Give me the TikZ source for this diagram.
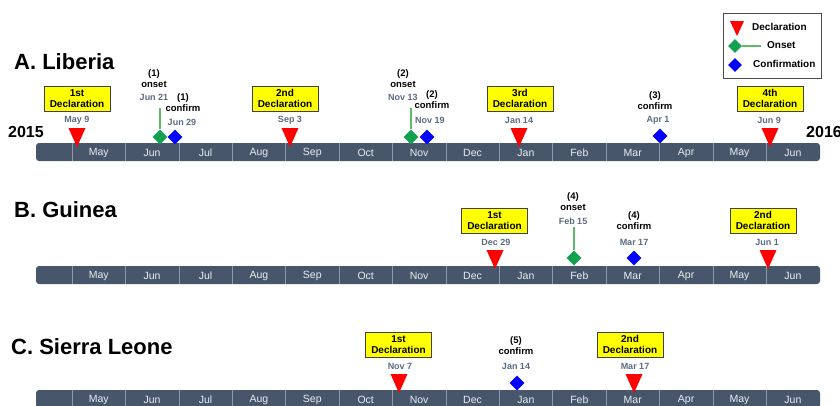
\documentclass[tikz,border=0pt]{standalone}
\usepackage{fontspec}
\setmainfont{Liberation Sans}
\usepackage{xcolor}
\usetikzlibrary{shapes.geometric}

\definecolor{barfill}{HTML}{48566C}
\definecolor{barrule}{HTML}{8E9AAA}
\definecolor{monthtxt}{HTML}{E9EDF2}
\definecolor{datetxt}{HTML}{5B6B82}
\definecolor{declred}{HTML}{FF0000}
\definecolor{declyellow}{HTML}{FFFF00}
\definecolor{onsetgreen}{HTML}{12A150}
\definecolor{linegreen}{HTML}{5DBB6A}
\definecolor{confblue}{HTML}{0000FF}

\begin{document}
\begin{tikzpicture}[x=1pt,y=-1pt,
    title/.style={font=\bfseries\fontsize{22}{24}\selectfont, anchor=west, inner sep=0},
    yearlbl/.style={font=\bfseries\fontsize{16}{18}\selectfont, inner sep=0},
    monthlbl/.style={text=monthtxt, font=\fontsize{10.5}{12}\selectfont, inner sep=0},
    declbox/.style={draw=black!75, fill=declyellow, line width=0.8pt, align=center,
        font=\bfseries\fontsize{10}{11}\selectfont, minimum width=66pt, minimum height=25pt, inner sep=1pt},
    datelbl/.style={text=datetxt, font=\bfseries\fontsize{9}{10}\selectfont, inner sep=0},
    evlbl/.style={align=center, font=\bfseries\fontsize{9.5}{11}\selectfont, inner sep=0},
    onsetmark/.style={diamond, fill=onsetgreen, minimum size=15pt, inner sep=0},
    confmark/.style={diamond, fill=confblue, minimum size=15pt, inner sep=0},
    onsetstem/.style={draw=linegreen, line width=1.4pt},
    legendtxt/.style={font=\bfseries\fontsize{10}{11}\selectfont, anchor=west, inner sep=0}]
    \useasboundingbox (0,0) rectangle (840,405);

    % timeline bars
    \foreach \r/\y in {A/143,B/266,C/390} {
        \fill[barfill, rounded corners=3pt] (36,\y) rectangle (820,\y+18);
        \foreach \i in {0,...,13}
            \draw[barrule, line width=0.6pt] (72+53.4*\i,\y) -- (72+53.4*\i,\y+18);
        \foreach \m [count=\i from 0] in {May,Jun,Jul,Aug,Sep,Oct,Nov,Dec,Jan,Feb,Mar,Apr,May,Jun}
            \node[monthlbl] (m\r\i) at (98.7+53.4*\i,\y+9.5) {\m};
    }

    % titles
    \node[title] (tA) at (14,62) {A. Liberia};
    \node[title] (tB) at (14,210) {B. Guinea};
    \node[title] (tC) at (11,347) {C. Sierra Leone};
    \node[yearlbl, anchor=west] (yr15) at (8,132) {2015};
    \node[yearlbl, anchor=west] (yr16) at (806,132) {2016};

    % legend
    \draw[black!70, line width=0.9pt] (723,13) rectangle (821,78);
    \fill[declred] (730,21) -- (744,21) -- (737,36) -- cycle;
    \node[legendtxt] (lgD) at (752,27) {Declaration};
    \coordinate (lgOend) at (761,46);
    \node[onsetmark, minimum size=14pt] (lgO) at (735,46) {};
    \draw[onsetstem] (lgO.east) -- (lgOend);
    \node[legendtxt] (lgOt) at (767,45) {Onset};
    \node[confmark, minimum size=14pt] (lgC) at (735,65) {};
    \node[legendtxt] (lgCt) at (753,64) {Confirmation};

    % declaration markers
    \foreach \x/\y in {77/147,290/147,519/147,770/147,495/269,768/269,399/393,634/393}
        \fill[declred] (\x,\y) -- ++(-8.5,-19) -- ++(17,0) -- cycle;

    % A. Liberia
    \node[declbox] (dbA1) at (77,98.5) {1st\\Declaration};
    \node[datelbl] (dtA1) at (77,120) {May 9};
    \node[declbox] (dbA2) at (285,98.5) {2nd\\Declaration};
    \node[datelbl] (dtA2) at (290,120) {Sep 3};
    \node[declbox] (dbA3) at (520,98.5) {3rd\\Declaration};
    \node[datelbl] (dtA3) at (519,120) {Jan 14};
    \node[declbox] (dbA4) at (770,98.5) {4th\\Declaration};
    \node[datelbl] (dtA4) at (769,120) {Jun 9};

    \node[evlbl] (evA1) at (154,78.5) {(1)\\onset};
    \node[datelbl] (onA1t) at (154,97) {Jun 21};
    \node[onsetmark] (onA1) at (160,137) {};
    \draw[onsetstem] (160,108) -- (onA1.north);
    \node[evlbl] (evA2) at (183,102.5) {(1)\\confirm};
    \node[datelbl] (cfA1t) at (182,122) {Jun 29};
    \node[confmark] (cfA1) at (175,137) {};

    \node[evlbl] (evA3) at (403,78.5) {(2)\\onset};
    \node[datelbl] (onA2t) at (403,97) {Nov 13};
    \node[onsetmark] (onA2) at (411,137) {};
    \draw[onsetstem] (411,108) -- (onA2.north);
    \node[evlbl] (evA4) at (432,100) {(2)\\confirm};
    \node[datelbl] (cfA2t) at (430,120) {Nov 19};
    \node[confmark] (cfA2) at (427,137) {};

    \node[evlbl] (evA5) at (655,100.5) {(3)\\confirm};
    \node[datelbl] (cfA3t) at (658,120) {Apr 1};
    \node[confmark] (cfA3) at (660,136) {};

    % B. Guinea
    \node[declbox] (dbB1) at (494.5,220.5) {1st\\Declaration};
    \node[datelbl] (dtB1) at (496,242) {Dec 29};
    \node[declbox] (dbB2) at (763,220.5) {2nd\\Declaration};
    \node[datelbl] (dtB2) at (767,242) {Jun 1};

    \node[evlbl] (evB1) at (573,201.5) {(4)\\onset};
    \node[datelbl] (onB1t) at (573,221) {Feb 15};
    \node[onsetmark] (onB1) at (574,258) {};
    \draw[onsetstem] (574,227) -- (onB1.north);
    \node[evlbl] (evB2) at (634,221) {(4)\\confirm};
    \node[datelbl] (cfB1t) at (634,242) {Mar 17};
    \node[confmark] (cfB1) at (634,258) {};

    % C. Sierra Leone
    \node[declbox] (dbC1) at (398.5,344.5) {1st\\Declaration};
    \node[datelbl] (dtC1) at (400,366) {Nov 7};
    \node[declbox] (dbC2) at (630,344.5) {2nd\\Declaration};
    \node[datelbl] (dtC2) at (635,366) {Mar 17};

    \node[evlbl] (evC1) at (516,345.5) {(5)\\confirm};
    \node[datelbl] (cfC1t) at (516,366) {Jan 14};
    \node[confmark] (cfC1) at (517,383) {};
\end{tikzpicture}
\end{document}
